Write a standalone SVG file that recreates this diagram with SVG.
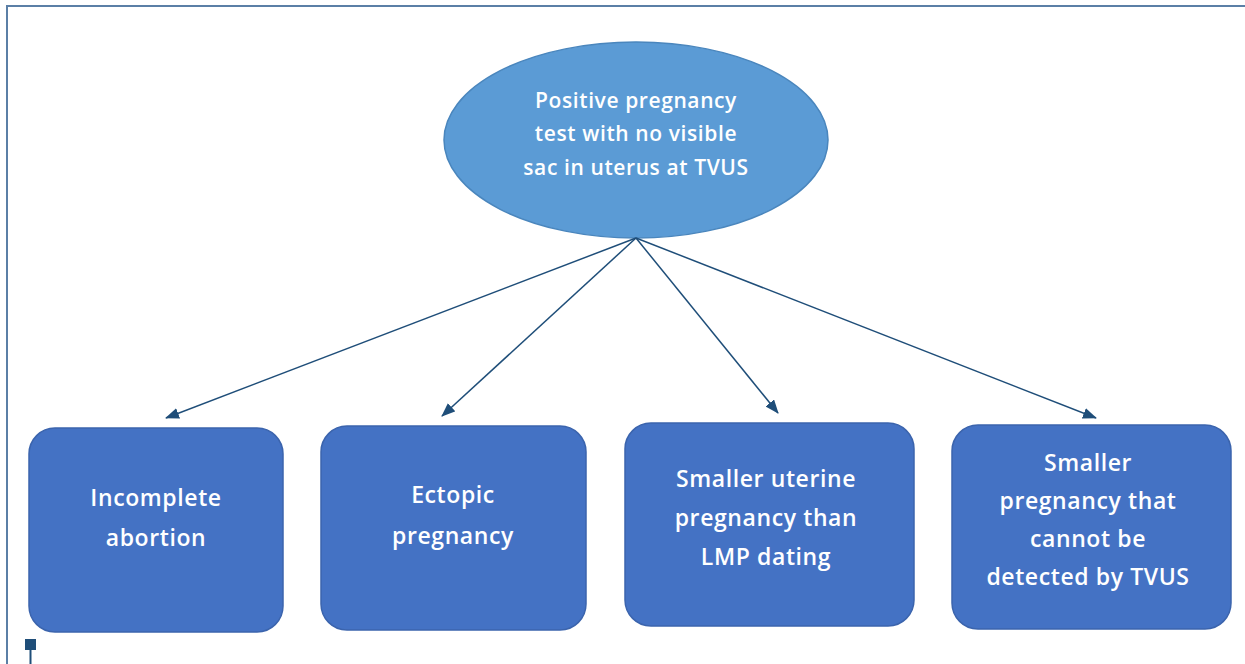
<svg xmlns="http://www.w3.org/2000/svg" width="1245" height="664" viewBox="0 0 1245 664">
<defs>
<style>
.box{fill:#4472c4;stroke:#3b64ad;stroke-width:1.5}
.oval{fill:#5b9bd5;stroke:#4a86bd;stroke-width:1.5}
.t{font-family:"Open Sans","Liberation Sans",sans-serif;font-size:23px;font-weight:600;letter-spacing:0.6px;fill:#ffffff;text-anchor:middle;dominant-baseline:central}
.te{font-family:"Open Sans","Liberation Sans",sans-serif;font-size:21px;font-weight:600;letter-spacing:0.6px;fill:#ffffff;text-anchor:middle;dominant-baseline:central}
.c{stroke:#1f4e79;stroke-width:1.5;fill:none;marker-end:url(#ah)}
</style>
<marker id="ah" markerWidth="14" markerHeight="11" refX="13" refY="5.5" orient="auto" markerUnits="userSpaceOnUse" viewBox="0 0 14 11">
<path d="M0,0 L14,5.5 L0,11 z" fill="#1f4e79"/>
</marker>
</defs>
<rect width="1245" height="664" fill="#ffffff"/>
<path d="M7,664 L7,6 L1245,6" fill="none" stroke="#5b7fa6" stroke-width="2"/>
<g id="root">
<ellipse class="oval" cx="636" cy="140" rx="192" ry="98"/>
<text class="te" x="636" y="100">Positive pregnancy</text>
<text class="te" x="636" y="133">test with no visible</text>
<text class="te" x="636" y="167">sac in uterus at TVUS</text>
</g>
<g id="connectors">
<line class="c" x1="636" y1="238" x2="166" y2="418"/>
<line class="c" x1="636" y1="238" x2="442" y2="416"/>
<line class="c" x1="636" y1="238" x2="778" y2="413"/>
<line class="c" x1="636" y1="238" x2="1096" y2="418"/>
</g>
<g id="n1">
<rect class="box" x="29" y="428" width="254" height="204" rx="26"/>
<text class="t" x="156" y="497">Incomplete</text>
<text class="t" x="156" y="537">abortion</text>
</g>
<g id="n2">
<rect class="box" x="321" y="426" width="265" height="204" rx="26"/>
<text class="t" x="453" y="494">Ectopic</text>
<text class="t" x="453" y="535">pregnancy</text>
</g>
<g id="n3">
<rect class="box" x="625" y="423" width="289" height="203" rx="26"/>
<text class="t" x="766" y="478">Smaller uterine</text>
<text class="t" x="766" y="517">pregnancy than</text>
<text class="t" x="766" y="556">LMP dating</text>
</g>
<g id="n4">
<rect class="box" x="952" y="425" width="279" height="204" rx="26"/>
<text class="t" x="1088" y="462">Smaller</text>
<text class="t" x="1088" y="500">pregnancy that</text>
<text class="t" x="1088" y="538">cannot be</text>
<text class="t" x="1088" y="576">detected by TVUS</text>
</g>
<g id="anchor">
<rect x="25" y="639" width="11" height="11" fill="#1f4e79"/>
<line x1="30.5" y1="650" x2="30.5" y2="664" stroke="#1f4e79" stroke-width="2"/>
</g>
</svg>
